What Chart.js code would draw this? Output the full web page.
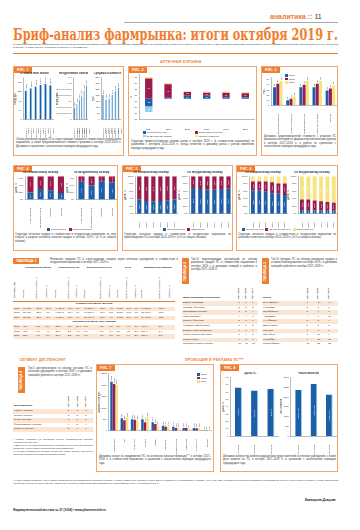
<!DOCTYPE html>
<html lang="ru"><head><meta charset="utf-8">
<script src="https://cdn.jsdelivr.net/npm/chart.js@4.4.0/dist/chart.umd.min.js"></script>
<style>
html,body{margin:0;padding:0;background:#fff}
#page{position:relative;width:360px;height:530px;overflow:hidden;font-family:"Liberation Sans",Arial,sans-serif;color:#222}
.abs{position:absolute}
.panel{position:absolute;border:1px solid #f3a56e;box-sizing:border-box;background:#fff}
.tag{position:absolute;background:#ef7d2f;color:#fff;font-weight:bold;font-size:3.6px;line-height:6px;height:6px;padding:0 3px}
.vtag{position:absolute;background:#ef7d2f;color:#fff;font-weight:bold;font-size:3.4px;line-height:7px;writing-mode:vertical-rl;transform:rotate(180deg);text-align:center}
.cap{position:absolute;font-size:2.6px;line-height:3.3px;color:#333;text-align:justify}
.sec{position:absolute;color:#ef7d2f;font-size:3.6px;font-weight:bold;letter-spacing:0.2px}
canvas{position:absolute}
table{border-collapse:collapse;font-size:2.5px;line-height:4.6px;color:#222}
td{padding:0 1px;white-space:nowrap}
tr.sh td{background:#fde5d3}
.rot{display:inline-block;writing-mode:vertical-rl;transform:rotate(180deg);white-space:nowrap;line-height:2.8px}
.lg{position:absolute;font-size:2.5px;line-height:3.6px;white-space:nowrap}
.lg i{display:inline-block;width:3px;height:2.4px;margin-right:1px;vertical-align:middle}
</style></head>
<body><div id="page">

<div class="abs" style="left:270px;top:13px;font-size:7px;font-weight:bold;color:#ef7d2f">аналитика :: <span style="color:#333;font-weight:normal">11</span></div>
<div class="abs" style="left:124px;top:22px;width:214px;height:1px;background:#aaa"></div>
<div id="title" class="abs" style="left:13px;top:25px;font-family:'DejaVu Serif';font-weight:bold;font-size:16px;color:#ef7d2f;white-space:nowrap;transform-origin:0 0">Бриф-анализ фармрынка: итоги октября 2019 г.</div>
<div class="cap" style="left:13px;top:43px;width:325px;font-size:2.4px;line-height:3px">В рамках публикации мы подводим итоги по основным показателям фармацевтического рынка России (коммерческий, государственный и аптечный сегменты) в октябре 2019 г. Для подготовки материала использованы данные аналитической системы исследования рынка «Розничный аудит ЛС», а также данные «Promotion Monitoring» и «Реклама ЛС».</div>
<div class="abs" style="left:13px;top:53px;width:325px;height:1px;background:#ef7d2f"></div>
<div class="sec" style="left:160px;top:60px">АПТЕЧНАЯ КОРЗИНА</div>

<!-- РИС 1 -->
<div class="panel" style="left:13px;top:66px;width:111px;height:90px"></div>
<div class="tag" style="left:14px;top:67px">РИС. 1</div>
<div class="cap" style="left:16px;top:138px;width:105px">Объем розничных продаж ЛС и сопутствующих товаров в стоимостном и натуральном выражении, а также средневзвешенная стоимость упаковки в октябре 2014–2019 гг. Динамика в сравнении с аналогичным периодом предыдущего года.</div>

<!-- РИС 2 -->
<div class="panel" style="left:128px;top:66px;width:129px;height:90px"></div>
<div class="tag" style="left:129px;top:67px">РИС. 2</div>
<div class="lg" style="left:143px;top:131px"><i style="background:#1d5ea8"></i>Рецептурные ЛС</div>
<div class="lg" style="left:195px;top:131px"><i style="background:#9b1c4c"></i>Безрецептурные ЛС</div>
<div class="lg" style="left:143px;top:134.5px"><i style="background:#8fd0ef"></i>БАД и прочие товары</div>
<div class="lg" style="left:195px;top:134.5px"><i style="background:#f7e37e"></i>Прочие сегменты</div>
<div class="cap" style="left:131px;top:140px;width:123px">Структура прироста/снижения объема рынка в октябре 2019 г. (в стоимостном выражении) по сравнению с октябрём 2014–2018 гг., вклад сегментов в динамику рынка с учетом изменения периода предыдущего года.</div>

<!-- РИС 3 -->
<div class="panel" style="left:261px;top:66px;width:77px;height:90px"></div>
<div class="tag" style="left:262px;top:67px">РИС. 3</div>
<div class="lg" style="left:285px;top:74px"><i style="background:#1d5ea8"></i>2017<br><i style="background:#9b1c4c"></i>2018<br><i style="background:#f7e37e"></i>2019</div>
<div class="cap" style="left:264px;top:135px;width:72px">Динамика средневзвешенной стоимости 1 упаковки ЛС различных категорий по фармакотерапевтическим группам в октябре 2017–2019 гг. в рублях по сравнению с аналогичным периодом предыдущего года.</div>

<!-- РИС 4 -->
<div class="panel" style="left:13px;top:165px;width:105px;height:86px"></div>
<div class="tag" style="left:14px;top:166px">РИС. 4</div>
<div class="lg" style="left:47px;top:228px"><i style="background:#1d5ea8"></i>Рецептурные &nbsp;&nbsp;<i style="background:#9b1c4c"></i>Безрецептурные</div>
<div class="cap" style="left:15px;top:233px;width:101px">Структура аптечных продаж в стоимостном и натуральном выражении по типу отпуска в разрезе основных каналов продаж в октябре 2019 г. (в % от общего объема)</div>

<!-- РИС 5 -->
<div class="panel" style="left:122px;top:165px;width:111px;height:86px"></div>
<div class="tag" style="left:123px;top:166px">РИС. 5</div>
<div class="lg" style="left:163px;top:228px"><i style="background:#1d5ea8"></i>Отечественные &nbsp;&nbsp;<i style="background:#9b1c4c"></i>Импортные</div>
<div class="cap" style="left:124px;top:233px;width:107px">Структура аптечных продаж в стоимостном и натуральном выражении по происхождению ЛС в октябре 2014–2019 гг. (в % от общего объема)</div>

<!-- РИС 6 -->
<div class="panel" style="left:236px;top:165px;width:102px;height:86px"></div>
<div class="tag" style="left:237px;top:166px">РИС. 6</div>
<div class="lg" style="left:242px;top:228px"><i style="background:#1d5ea8"></i>Менее 100 руб. &nbsp;<i style="background:#9b1c4c"></i>От 100 до 500 руб. &nbsp;<i style="background:#f7e37e"></i>Более 500 руб.</div>
<div class="cap" style="left:238px;top:233px;width:98px">Структура аптечных продаж в стоимостном и натуральном выражении по ценовым сегментам в октябре 2014–2019 гг. (в % от общего объема)</div>

<!-- ТАБЛИЦА 1 -->
<div class="tag" style="left:13px;top:258px">ТАБЛИЦА 1</div>
<div class="cap" style="left:50px;top:258px;width:128px">Розничные продажи ЛС и сопутствующих товаров через аптечные учреждения в стоимостном и натуральном выражении в октябре 2017–2019 гг.</div>
<div id="t1" class="abs" style="left:13px;top:266px;width:165px"></div>

<!-- ТАБЛИЦА 2 -->
<div class="vtag" style="left:182px;top:258px;width:7px;height:26px">ТАБЛИЦА 2</div>
<div class="cap" style="left:191px;top:258px;width:66px">Топ-10 маркетирующих организаций по объему розничных продаж ЛС в стоимостном выражении в октябре 2019 г. и динамика позиций в рейтинге в октябре 2017–2018 гг.</div>
<div id="t2" class="abs" style="left:182px;top:286px;width:76px"></div>

<!-- ТАБЛИЦА 3 -->
<div class="vtag" style="left:262px;top:258px;width:7px;height:26px">ТАБЛИЦА 3</div>
<div class="cap" style="left:271px;top:258px;width:66px">Топ-10 брендов ЛС по объему розничных продаж в стоимостном выражении в октябре 2019 г. и динамика позиций в рейтинге в октябре 2017–2018 гг.</div>
<div id="t3" class="abs" style="left:262px;top:286px;width:76px"></div>

<div class="sec" style="left:19px;top:358px">СЕГМЕНТ ДИСПЕНСИНГ</div>
<div class="sec" style="left:185px;top:358px">ПРОМОЦИЯ И РЕКЛАМА ЛС***</div>

<!-- ТАБЛИЦА 4 -->
<div class="vtag" style="left:18px;top:367px;width:7px;height:26px">ТАБЛИЦА 4</div>
<div class="cap" style="left:28px;top:367px;width:64px">Топ-5 дистрибьюторов по объему поставок ЛС в аптечные учреждения в октябре 2019 г. и динамика позиций в рейтинге в октябре 2017–2018 гг.</div>
<div id="t4" class="abs" style="left:13px;top:394px;width:80px"></div>
<div class="cap" style="left:13px;top:438px;width:80px;font-size:2.3px;line-height:3px">* Рейтинг составлен на основании данных аналитической системы «Розничный аудит ЛС».<br>** Данные по объемам продвижения и рекламы ЛС по данным Promotion Monitoring. Учтены визиты медицинских представителей.<br>*** В охват мониторинга рекламы входят ТВ, радио, пресса, интернет и наружная реклама по основным городам России.</div>

<!-- РИС 7 -->
<div class="panel" style="left:96px;top:364px;width:118px;height:108px"></div>
<div class="tag" style="left:97px;top:365px">РИС. 7</div>
<div class="lg" style="left:197px;top:373px"><i style="background:#1d5ea8"></i>2017<br><i style="background:#9b1c4c"></i>2018<br><i style="background:#f7e37e"></i>2019</div>
<div class="cap" style="left:99px;top:455px;width:112px">Динамика затрат на продвижение ЛС по основным каналам промоции*** в октябре 2017–2019 гг. в стоимостном выражении, в сравнении с аналогичным периодом предыдущего года.</div>

<!-- РИС 8 -->
<div class="panel" style="left:220px;top:364px;width:118px;height:108px"></div>
<div class="tag" style="left:221px;top:365px">РИС. 8</div>
<div class="cap" style="left:223px;top:455px;width:113px">Динамика количества визитов медицинских представителей в аптечные учреждения, а также доля визитов по ЛС в октябре 2017–2019 гг. в сравнении с аналогичным периодом предыдущего года.</div>

<div class="cap" style="left:13px;top:479px;width:325px;font-size:2.3px;line-height:3px">*** При анализе промоции учтены визиты медицинских представителей к врачам и в аптеки, а также размещение рекламы в СМИ. Данные приведены в сопоставимых условиях, без учета НДС. Методика расчета предусматривает экстраполяцию данных на все регионы России с учетом численности населения и структуры аптечной сети. Сравнение с предыдущими периодами проводится по сопоставимому кругу участников рынка. <span style="color:#ef7d2f">■</span></div>
<div class="abs" style="left:305px;top:498px;font-size:3px;font-style:italic;font-weight:bold">Екатерина Дивцова</div>
<div class="abs" style="left:13px;top:508px;font-size:3px;font-weight:bold">Фармацевтический вестник № 37 (1034) • www.pharmvestnik.ru</div>
</div>

<script>
// ---------- data ----------
const blue = '#1d5ea8', lightBlue = '#8fd0ef', maroon = '#9b1c4c', yellow = '#f7e37e';

const ris1Years = [['Октябрь', '2014'], ['Октябрь', '2015'], ['Октябрь', '2016'], ['Октябрь', '2017'], ['Октябрь', '2018'], ['Октябрь', '2019']];
const ris1Rub = [123.6, 133.8, 140.9, 147.5, 151.8, 146.2];
const ris1Pack = [0.39, 0.52, 0.65, 0.78, 0.96, 1.12];
const ris1Avg = [205, 168, 175, 205, 240, 262];

const ris2Years = ['2014', '2015', '2016', '2017', '2018', '2019'];
const ris2Rx = [-25, 3, 10, 10, 5, 5];
const ris2Otc = [67, 45, 12, 10, 15, 13];
const ris2Bad = [-20, 0, 0, 0, 0, 0];
const ris2Other = [5, 4, 3, 4, 4, 4];

const ris3Groups = ['Сердечно-сосудистые', 'Противопростудные', 'Пищеварительные', 'Нервная система', 'Прочие'];
const ris3Y2017 = [35, 10, 35, 35, 29];
const ris3Y2018 = [42, 13, 40, 42, 33];
const ris3Y2019 = [48, 18, 48, 48, 39];

const ris4Channels = ['Аптечные сети', 'Независимые аптеки', 'Онлайн', 'Прочие'];
const ris4RubRx = [30, 45, 40, 28];
const ris4PackRx = [77, 60, 79, 73];

const ris5Years = ['2014', '2015', '2016', '2017', '2018', '2019'];
const ris5RubLocal = [38, 34, 33, 34, 36, 38];
const ris5PackLocal = [69, 66, 64, 64, 66, 67];

const ris6Years = ['2014', '2015', '2016', '2017', '2018', '2019'];
const ris6RubLow = [62, 62, 59, 55, 55, 50];
const ris6RubMid = [24, 24, 27, 29, 26, 31];
const ris6PackLow = [10, 10, 9, 9, 8, 8];
const ris6PackMid = [28, 28, 26, 24, 23, 21];

const ris7Channels = ['Визиты МП', 'ТВ', 'Интернет', 'Пресса', 'Радио', 'Наружная', 'Конференции', 'Рассылки', 'Транспорт', 'Прочее'];
const ris7Y2017 = [2150, 540, 500, 500, 370, 210, 170, 120, 120, 10];
const ris7Y2018 = [2050, 460, 480, 370, 290, 170, 120, 120, 110, 10];
const ris7Y2019 = [2000, 580, 460, 580, 210, 170, 120, 80, 120, 40];

const ris8Years = ['окт. 2017', 'окт. 2018', 'окт. 2019'];
const ris8Share = [66.2, 62.1, 64.0];
const ris8Visits = [2349, 2657, 2126];

const t2Names = ['Байер (Германия)', 'Санофи (Франция)', 'Отисифарм (Россия)', 'Тева (Израиль)', 'Сервье (Франция)', 'Новартис (Швейцария)', 'Берлин-Хеми (Германия)', 'Гедеон Рихтер (Венгрия)', 'Эбботт (США)', 'Материа Медика (Россия)'];
const t2R2019 = [1, 2, 3, 4, 5, 6, 7, 8, 9, 10];
const t2R2018 = [1, 2, 5, 4, 3, 6, 7, 9, 8, 11];
const t2R2017 = [1, 2, 4, 6, 3, 5, 9, 8, 7, 12];

const t3Names = ['ИНГАВИРИН', 'КАГОЦЕЛ', 'ЭРГОФЕРОН', 'АРБИДОЛ', 'АНАФЕРОН', 'ДЕТРАЛЕКС', 'КОНКОР', 'ТЕРАФЛЮ', 'НУРОФЕН', 'ГРИППФЕРОН'];
const t3R2019 = [1, 2, 3, 4, 5, 6, 7, 8, 9, 10];
const t3R2018 = [19, 2, 4, 7, 5, 3, 6, 11, 13, 20];
const t3R2017 = [44, 3, 7, 11, 4, 5, 6, 9, 12, 28];

const t4Names = ['Катрен (Россия)', 'Протек (Россия)', 'Пульс (Россия)', 'Фармкомплект (Россия)', 'Ирвин 2 (Россия)'];
const t4R2019 = [1, 2, 3, 4, 5];
const t4R2018 = [1, 2, 3, 5, 4];
const t4R2017 = [1, 2, 3, 4, 6];

const t1Years = ['2017', '2018', '2019'];
const t1Rub = [
  ['54 678', '21.8', '36.2', '6 485.8', '17.0', '7.6', '16 236.1', '37.2', '4.2', '3 126', '10.8', '0.6', '14 856.0', '32.8'],
  ['56 482', '22.0', '3.3', '6 884.1', '17.4', '7.1', '17 080.7', '36.7', '5.2', '2 587', '10.8', '0.5', '15 930.0', '33.1'],
  ['55 860', '21.6', '-1.1', '7 395.6', '18.7', '7.4', '16 674.6', '38.0', '4.0', '3 030', '11.0', '0.6', '16 480.0', '32.7']
];
const t1Pack = [
  ['470', '5.8', '8.6', '28.6', '2.0', '27.1', '5.5', '8.2', '3.7', '3.6', '4.7', '3.6', '146.6', '5.1'],
  ['493', '6.0', '4.9', '29.9', '2.1', '4.5', '5.6', '8.1', '3.4', '3.8', '4.5', '2.5', '150.4', '5.4'],
  ['508', '6.1', '3.0', '31.0', '2.2', '3.7', '5.7', '8.3', '3.1', '3.9', '4.9', '2.7', '156.3', '5.5']
];

// ---------- value labels ----------
const valueLabels = {
  id: 'valueLabels',
  afterDatasetsDraw(chart, args, opts) {
    if (!opts || !opts.show) return;
    const ctx = chart.ctx;
    chart.data.datasets.forEach((ds, i) => {
      const meta = chart.getDatasetMeta(i);
      meta.data.forEach((bar, j) => {
        const v = ds.data[j];
        if (v === 0 || v === null) return;
        const text = opts.format ? opts.format(v) : String(v);
        ctx.save();
        ctx.font = (opts.size || 2.6) + 'px "Liberation Sans"';
        ctx.fillStyle = opts.color || '#fff';
        const top = opts.position === 'top';
        const y = top ? Math.min(bar.y, bar.base) - 1 : (bar.y + bar.base) / 2;
        ctx.translate(bar.x, y);
        if (opts.rotate) ctx.rotate(-Math.PI / 2);
        ctx.textAlign = top && opts.rotate ? 'left' : 'center';
        ctx.textBaseline = top && !opts.rotate ? 'bottom' : 'middle';
        ctx.fillText(text, 0, 0);
        ctx.restore();
      });
    });
  }
};
Chart.register(valueLabels);
Chart.defaults.font.family = '"Liberation Sans", Arial, sans-serif';
Chart.defaults.font.size = 2.6;
Chart.defaults.color = '#333';

const page = document.getElementById('page');

function makeChart(x, y, w, h, config) {
  const c = document.createElement('canvas');
  c.width = w; c.height = h;
  c.style.left = x + 'px'; c.style.top = y + 'px';
  c.style.width = w + 'px'; c.style.height = h + 'px';
  page.appendChild(c);
  config.options = Object.assign({ responsive: false, maintainAspectRatio: false, animation: false, events: [], devicePixelRatio: 1 }, config.options);
  return new Chart(c.getContext('2d'), config);
}

function axes(o) {
  return {
    x: {
      stacked: !!o.stacked,
      grid: { display: false },
      border: { color: '#777', width: 0.5 },
      ticks: { font: { size: 2.4, lineHeight: 1 }, maxRotation: o.rot === 0 ? 0 : 90, minRotation: o.rot === 0 ? 0 : 90, padding: 0.5, autoSkip: false }
    },
    y: {
      stacked: !!o.stacked,
      min: o.min, max: o.max,
      grid: { display: false, drawTicks: true, tickLength: 1.5, tickWidth: 0.5, color: '#777' },
      border: { color: '#777', width: 0.5 },
      ticks: { stepSize: o.step, font: { size: 2.4, lineHeight: 1 }, padding: 0.5, callback: o.fmt },
      title: { display: !!o.ytitle, text: o.ytitle, font: { size: 2.6 }, padding: 0 }
    }
  };
}

function titleOpt(t) {
  return { display: true, text: t, font: { size: 2.8, weight: 'bold' }, color: '#333', padding: { top: 0, bottom: 2 } };
}

// РИС 1
function ris1(x, w, title, data, max, step, ytitle, fmt) {
  makeChart(x, 72, w, 66, {
    type: 'bar',
    data: { labels: ris1Years, datasets: [{ data: data, backgroundColor: blue, borderColor: lightBlue, borderWidth: { right: 1 }, borderSkipped: false, barPercentage: 0.7 }] },
    options: {
      layout: { padding: { right: 1, top: 0 } },
      plugins: { legend: { display: false }, tooltip: { enabled: false }, title: titleOpt(title), valueLabels: { show: true, position: 'top', rotate: true, color: '#333', size: 2.3, format: fmt } },
      scales: axes({ min: 0, max: max, step: step, ytitle: ytitle })
    }
  });
}
ris1(14, 42, 'Стоимостной объем', ris1Rub, 180, 20, 'Млрд руб.', v => v.toFixed(1));
ris1(56, 36, 'Натуральный объем', ris1Pack, 1.4, 0.2, 'Млрд упак.', v => v.toFixed(2));
ris1(92, 32, 'Средняя стоимость', ris1Avg, 350, 50, 'Руб.', v => v.toFixed(0));

// РИС 2
makeChart(130, 73, 125, 58, {
  type: 'bar',
  data: {
    labels: ris2Years,
    datasets: [
      { data: ris2Rx, backgroundColor: blue },
      { data: ris2Otc, backgroundColor: maroon },
      { data: ris2Bad, backgroundColor: lightBlue },
      { data: ris2Other, backgroundColor: yellow }
    ]
  },
  options: {
    plugins: { legend: { display: false }, tooltip: { enabled: false }, valueLabels: { show: true, size: 2.2 } },
    datasets: { bar: { barPercentage: 0.38, categoryPercentage: 1 } },
    scales: axes({ stacked: true, min: -70, max: 80, step: 10, rot: 0, ytitle: '%' })
  }
});

// РИС 3
makeChart(263, 73, 74, 61, {
  type: 'bar',
  data: {
    labels: ris3Groups,
    datasets: [
      { data: ris3Y2017, backgroundColor: blue },
      { data: ris3Y2018, backgroundColor: maroon },
      { data: ris3Y2019, backgroundColor: yellow }
    ]
  },
  options: {
    layout: { padding: { top: 4 } },
    plugins: { legend: { display: false }, tooltip: { enabled: false }, valueLabels: { show: true, position: 'top', rotate: true, color: '#333', size: 2.2 } },
    datasets: { bar: { barPercentage: 0.9, categoryPercentage: 0.75 } },
    scales: axes({ min: 0, max: 55, step: 5, ytitle: 'Руб.' })
  }
});

function share(arr) { return arr.map(v => 100 - v); }

// РИС 4-6
function stack2(x, w, title, labels, a, b, c) {
  const ds = [
    { data: a, backgroundColor: blue },
    { data: b, backgroundColor: maroon }
  ];
  if (c) ds.push({ data: c, backgroundColor: yellow });
  makeChart(x, 171, w, 57, {
    type: 'bar',
    data: { labels: labels, datasets: ds },
    options: {
      plugins: { legend: { display: false }, tooltip: { enabled: false }, title: titleOpt(title), valueLabels: { show: true, rotate: true, size: 2.2, format: v => v + '%' } },
      datasets: { bar: { barPercentage: 0.6, categoryPercentage: 1 } },
      scales: axes({ stacked: true, min: 0, max: 100, step: 10, ytitle: 'Доля, %', fmt: v => v + '%' })
    }
  });
}
stack2(15, 51, 'По стоимостному объему', ris4Channels, ris4RubRx, share(ris4RubRx));
stack2(66, 51, 'По натуральному объему', ris4Channels, ris4PackRx, share(ris4PackRx));

stack2(124, 54, 'По стоимостному объему', ris5Years, ris5RubLocal, share(ris5RubLocal));
stack2(178, 54, 'По натуральному объему', ris5Years, ris5PackLocal, share(ris5PackLocal));

stack2(238, 50, 'По стоимостному объему', ris6Years, ris6RubLow, ris6RubMid, ris6RubLow.map((v, i) => 100 - v - ris6RubMid[i]));
stack2(287, 50, 'По натуральному объему', ris6Years, ris6PackLow, ris6PackMid, ris6PackLow.map((v, i) => 100 - v - ris6PackMid[i]));

// РИС 7
makeChart(98, 372, 114, 83, {
  type: 'bar',
  data: {
    labels: ris7Channels,
    datasets: [
      { data: ris7Y2017, backgroundColor: blue },
      { data: ris7Y2018, backgroundColor: maroon },
      { data: ris7Y2019, backgroundColor: yellow }
    ]
  },
  options: {
    plugins: { legend: { display: false }, tooltip: { enabled: false }, valueLabels: { show: true, position: 'top', rotate: true, color: '#333', size: 2.2 } },
    datasets: { bar: { barPercentage: 0.95, categoryPercentage: 0.75 } },
    scales: axes({ min: 0, max: 2500, step: 500, ytitle: 'Затраты, млн руб.' })
  }
});

// РИС 8
function ris8(x, w, title, data, max, step, ytitle, fmt) {
  makeChart(x, 372, w, 83, {
    type: 'bar',
    data: { labels: ris8Years, datasets: [{ data: data, backgroundColor: blue, borderColor: lightBlue, borderWidth: { right: 1 }, borderSkipped: false }] },
    options: {
      plugins: { legend: { display: false }, tooltip: { enabled: false }, title: titleOpt(title), valueLabels: { show: true, rotate: true, size: 2.4, format: fmt } },
      datasets: { bar: { barPercentage: 0.55 } },
      scales: axes({ min: 0, max: max, step: step, ytitle: ytitle })
    }
  });
}
ris8(222, 57, 'Доля ЛС', ris8Share, 80, 10, 'Доля, %', v => v.toFixed(1) + '%');
ris8(280, 57, 'Число визитов', ris8Visits, 3000, 500, 'Тыс. визитов', v => v + ' тыс.');

// ---------- tables ----------
function rankTable(el, head, names, r17, r18, r19) {
  let h = '<table style="width:100%"><tr><td style="font-weight:bold;height:15px;vertical-align:bottom">' + head + '</td>' +
    ['2019', '2018', '2017'].map(y => '<td style="vertical-align:bottom;font-weight:bold"><span class="rot">окт. ' + y + '</span></td>').join('') + '</tr>';
  names.forEach((n, i) => {
    h += '<tr class="' + (i % 2 === 0 ? 'sh' : '') + '"><td>' + n + '</td><td>' + r19[i] + '</td><td>' + r18[i] + '</td><td>' + r17[i] + '</td></tr>';
  });
  document.getElementById(el).innerHTML = h + '</table>';
}
rankTable('t2', 'Маркетирующая организация', t2Names, t2R2017, t2R2018, t2R2019);
rankTable('t3', 'Бренд', t3Names, t3R2017, t3R2018, t3R2019);
rankTable('t4', 'Дистрибьютор', t4Names, t4R2017, t4R2018, t4R2019);

(function () {
  const groups = ['Стоимостной объем', 'Рецептурные ЛС', 'Безрецептурные ЛС', 'БАД', 'Медицинские изделия'];
  const sub = ['Объем', 'Доля от общего, %', 'Прирост, %'];
  let h = '<table style="width:100%"><tr><td></td>' + groups.map(g => '<td colspan="3" style="text-align:center;font-weight:bold;white-space:normal;line-height:3px">' + g + '</td>').join('') + '</tr>';
  h += '<tr><td style="vertical-align:bottom;height:32px"><span class="rot" style="font-weight:bold">Октябрь, год</span></td>';
  for (let g = 0; g < 5; g++) sub.forEach(s => h += '<td style="vertical-align:bottom"><span class="rot">' + s + '</span></td>');
  h += '<td></td></tr><tr><td colspan="16" style="text-align:center;font-weight:bold;border-top:0.5px solid #ef7d2f">Стоимостной объем, млн руб.</td></tr>';
  t1Years.forEach((y, i) => { h += '<tr class="' + (i % 2 === 0 ? 'sh' : '') + '"><td>' + y + '</td>' + t1Rub[i].concat(['']).map(v => '<td>' + v + '</td>').join('') + '</tr>'; });
  h += '<tr><td colspan="16" style="text-align:center;font-weight:bold">Натуральный объем, млн упаковок</td></tr>';
  t1Years.forEach((y, i) => { h += '<tr class="' + (i % 2 === 0 ? 'sh' : '') + '"><td>' + y + '</td>' + t1Pack[i].concat(['']).map(v => '<td>' + v + '</td>').join('') + '</tr>'; });
  document.getElementById('t1').innerHTML = h + '</table>';
})();

// fit title width
const t = document.getElementById('title');
t.style.transform = 'scaleX(' + (325 / t.scrollWidth) + ')';
</script>
</body></html>
